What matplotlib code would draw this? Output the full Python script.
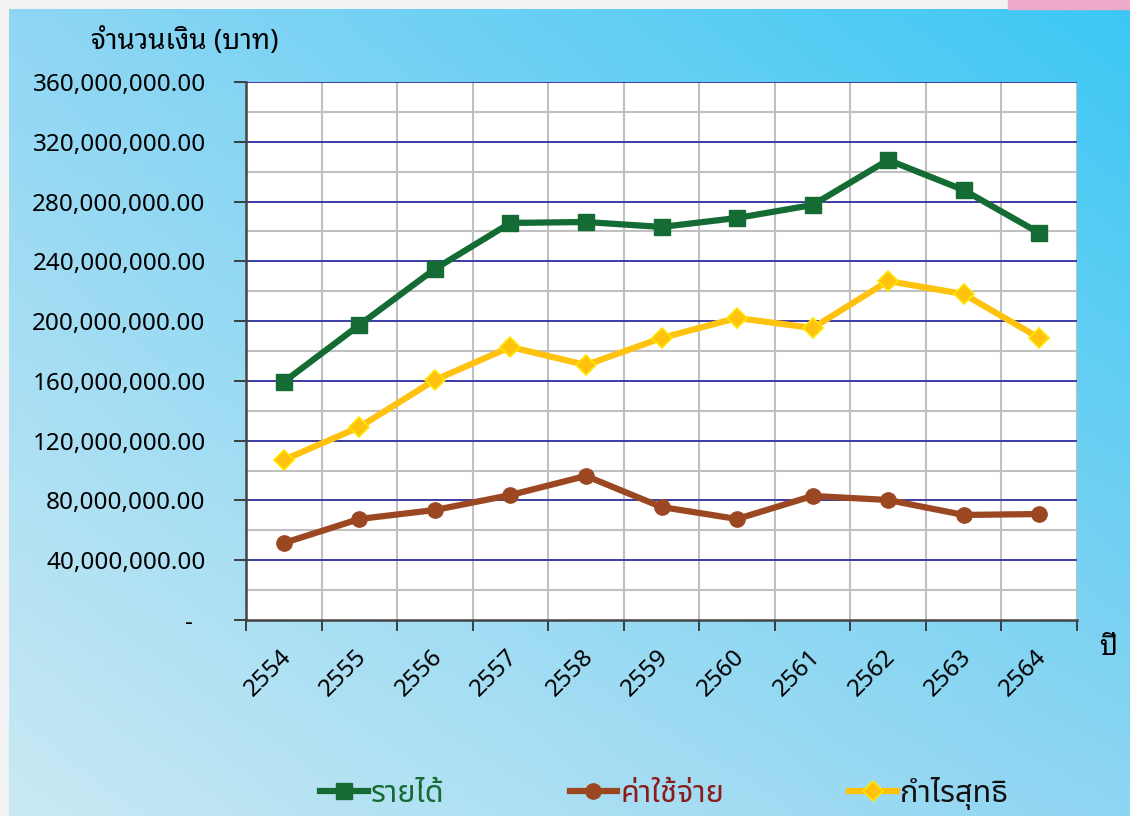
import matplotlib
matplotlib.use("Agg")
import matplotlib.pyplot as plt
import matplotlib.transforms as mtransforms
import numpy as np
from matplotlib.colors import to_rgb

years = ["2554", "2555", "2556", "2557", "2558", "2559", "2560", "2561", "2562", "2563", "2564"]
income = [159.3, 197.4, 234.9, 265.7, 266.3, 263.0, 269.0, 277.7, 307.8, 287.7, 259.0]   # million baht
expense = [51.5, 67.6, 73.6, 83.6, 96.4, 75.6, 67.6, 83.0, 80.3, 70.3, 70.9]
profit = [107.1, 129.1, 160.6, 182.7, 170.6, 188.7, 202.1, 195.4, 226.8, 218.1, 188.7]
series_names = ["รายได้", "ค่าใช้จ่าย", "กำไรสุทธิ"]
y_ticks = [0, 40e6, 80e6, 120e6, 160e6, 200e6, 240e6, 280e6, 320e6, 360e6]

thai = ["Noto Sans Thai Looped", "DejaVu Sans"]
thai_legend = ["Noto Sans Thai", "DejaVu Sans"]

fig = plt.figure(figsize=(11.3, 8.16), dpi=100)
fig.patch.set_facecolor("#f2f2f2")
# pink strip in the top right corner
fig.patches.append(plt.Rectangle((1008 / 1130, 1 - 9 / 816), 122 / 1130, 9 / 816,
                                 transform=fig.transFigure, color="#eeaacb", zorder=0))

# gradient background
bg = fig.add_axes([9 / 1130, 0, 1 - 9 / 1130, 1 - 9 / 816])
tl, tr = np.array(to_rgb("#8fd6f3")), np.array(to_rgb("#3cc8f4"))
bl, br = np.array(to_rgb("#c9e9f4")), np.array(to_rgb("#8ed5f2"))
u = np.linspace(0, 1, 200)[None, :, None]
v = np.linspace(0, 1, 150)[:, None, None]
img = (1 - v) * ((1 - u) * tl + u * tr) + v * ((1 - u) * bl + u * br)
bg.imshow(img, aspect="auto", extent=[0, 1, 0, 1])
bg.set_axis_off()

ax = fig.add_axes([246 / 1130, 1 - 620 / 816, (1077 - 246) / 1130, (620 - 82) / 816])
ax.set_facecolor("white")
x = np.arange(len(years))

ax.plot(x, np.array(income) * 1e6, color="#146b34", lw=4.5, marker="s", ms=11,
        mfc="#146b34", mec="#146b34", label=series_names[0], zorder=5)
ax.plot(x, np.array(expense) * 1e6, color="#9b4722", lw=4.5, marker="o", ms=11,
        mfc="#9b4722", mec="#9b4722", label=series_names[1], zorder=5)
ax.plot(x, np.array(profit) * 1e6, color="#ffc20e", lw=4.5, marker="D", ms=10,
        mfc="#ffc20e", mec="#ffe800", mew=1.2, label=series_names[2], zorder=5)

ax.set_xlim(-0.5, len(years) - 0.5)
ax.set_ylim(0, 360e6)

# gridlines
for yy in np.arange(20e6, 360e6, 40e6):
    ax.axhline(yy, color="#c0c0c0", lw=1.5, zorder=1)
for xx in np.arange(-0.5, len(years), 1.0):
    ax.axvline(xx, color="#c0c0c0", lw=1.5, zorder=1)
for yy in y_ticks[1:]:
    ax.axhline(yy, color="#3b3ba3", lw=1.4, zorder=2)

ax.set_yticks(y_ticks)
ax.set_yticklabels(["-  " if t == 0 else f"{t:,.2f}" for t in y_ticks])
ax.set_xticks(x)
ax.set_xticklabels(years, rotation=45, ha="right", va="center", rotation_mode="anchor")
ax.set_xticks(np.arange(-0.5, len(years), 1.0), minor=True)
ax.tick_params(axis="x", which="major", length=0, pad=24, labelsize=17.5)
ax.tick_params(axis="x", which="minor", length=8, width=1.3, color="#333333")
ax.tick_params(axis="y", length=9, width=1.3, color="#333333", pad=20, labelsize=17.5)
shift = mtransforms.ScaledTranslation(4 / 100, 0, fig.dpi_scale_trans)
for lab in ax.get_xticklabels():
    lab.set_transform(lab.get_transform() + shift)
for lab in ax.get_xticklabels() + ax.get_yticklabels():
    lab.set_family(thai)
    lab.set_fontweight("semibold")

for s in ["top", "right"]:
    ax.spines[s].set_visible(False)
for s in ["left", "bottom"]:
    ax.spines[s].set_color("#444444")
    ax.spines[s].set_linewidth(1.8)
    ax.spines[s].set_zorder(6)

fig.text(185 / 1130, 1 - 42 / 816, "จำนวนเงิน (บาท)", family=thai, fontsize=20,
         fontweight="bold", ha="center", va="center")
fig.text(1108 / 1130, 1 - 648 / 816, "ปี", family=thai, fontsize=20,
         fontweight="semibold", ha="center", va="center")

leg = fig.legend(loc="center", bbox_to_anchor=(664 / 1130, 1 - 793 / 816), ncol=3,
                 frameon=False, prop={"family": thai_legend, "size": 22, "weight": "semibold"},
                 handlelength=1.55, handletextpad=0.1, columnspacing=4.1)
for t, c in zip(leg.get_texts(), ["#146b34", "#8b1a1a", "#111111"]):
    t.set_color(c)

fig.savefig("out.png", facecolor=fig.get_facecolor())
